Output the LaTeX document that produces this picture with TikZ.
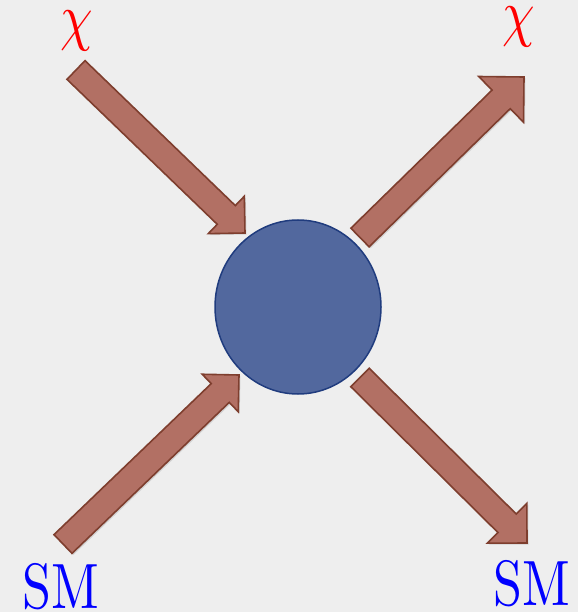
\documentclass[tikz,border=0pt]{standalone}
\usetikzlibrary{calc,shapes.geometric,shadows}

\definecolor{paper}{RGB}{238,238,238}
\definecolor{brickfill}{RGB}{178,112,100}
\definecolor{brickline}{RGB}{126,62,46}
\definecolor{blobfill}{RGB}{82,104,158}
\definecolor{blobline}{RGB}{32,60,126}

% block arrow from tail #2 to tip #3, #1 = half width of the head
\newcommand\blockarrow[3][28]{%
  \coordinate (neck) at ($(#3)!#1pt!(#2)$);
  \draw[brick] ($(#2)!13pt!90:(#3)$) -- ($(neck)!13pt!90:(#3)$)
    -- ($(neck)!#1pt!90:(#3)$) -- (#3) -- ($(neck)!#1pt!-90:(#3)$)
    -- ($(neck)!13pt!-90:(#3)$) -- ($(#2)!13pt!-90:(#3)$) -- cycle;
}
% big squeezed label
\newcommand\biglabel[1]{\scalebox{5.2}[6.4]{#1}}

\begin{document}
\begin{tikzpicture}[
  x=1pt, y=-1pt,
  brick/.style={fill=brickfill, draw=brickline, line width=1.6pt, line join=miter,
    drop shadow={opacity=0.25, shadow xshift=1.5pt, shadow yshift=-1.5pt}},
  blob/.style={ellipse, fill=blobfill, draw=blobline, line width=1.5pt,
    minimum width=166pt, minimum height=174pt, inner sep=0pt},
  big/.style={anchor=base, inner sep=0pt},
  dm/.style={big, text=red},
  sm/.style={big, text=blue}
]
\fill[paper] (0,0) rectangle (578,612);
\useasboundingbox (0,0) rectangle (578,612);

\node[blob] (blob) at (298,307) {};

\node[dm] (chiin)  at (77,39)     {\biglabel{$\chi$}};
\node[dm] (chiout) at (519,35)    {\biglabel{$\chi$}};
\node[sm] (smin)   at (60.5,608)  {\biglabel{SM}};
\node[sm] (smout)  at (531.5,605) {\biglabel{SM}};

% arrow ends
\coordinate (inA)  at (76,70);
\coordinate (inB)  at (245,233);
\coordinate (outA) at (360,237.5);
\coordinate (outB) at (524,77);
\coordinate (smA)  at (63,544);
\coordinate (smB)  at (239,375);
\coordinate (smC)  at (360,377.5);
\coordinate (smD)  at (527,543);

\blockarrow[26]{inA}{inB}
\blockarrow[32]{outA}{outB}
\blockarrow[26]{smA}{smB}
\blockarrow[28]{smC}{smD}
\end{tikzpicture}
\end{document}
